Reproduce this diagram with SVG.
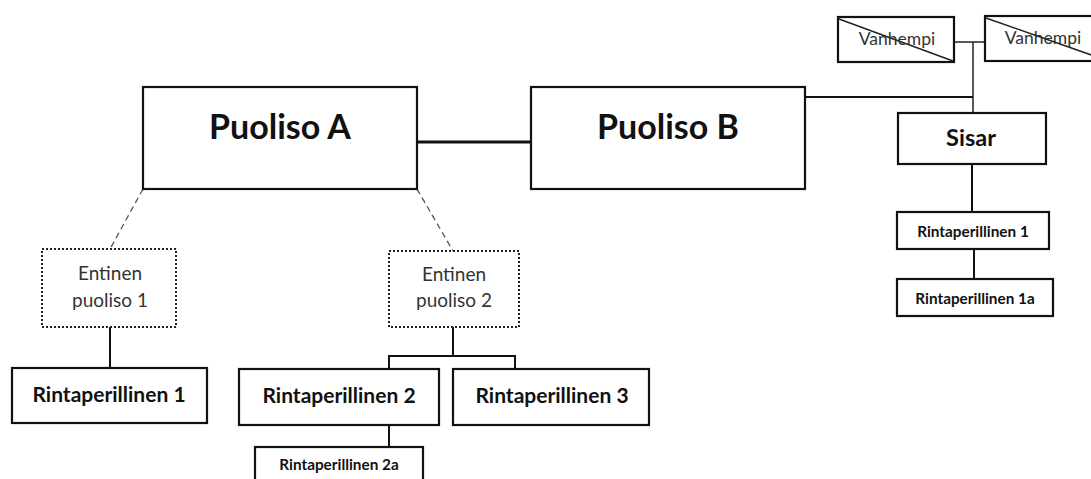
<svg xmlns="http://www.w3.org/2000/svg" width="1091" height="479" viewBox="0 0 1091 479">
<style>
.box{fill:#fff;stroke:#111;stroke-width:2.2}
.dot{fill:#fff;stroke:#222;stroke-width:2;stroke-dasharray:2,2}
.ln{fill:none;stroke:#111;stroke-width:2}
.thick{fill:none;stroke:#111;stroke-width:3}
.thin{fill:none;stroke:#222;stroke-width:1.5}
.dash{fill:none;stroke:#555;stroke-width:1.3;stroke-dasharray:6,4}
text{font-family:Lato,"Liberation Sans",sans-serif;text-anchor:middle;fill:#111}
.b{font-weight:bold}
.r{fill:#333}
</style>
<rect width="1091" height="479" fill="#fff"/>
<g id="connectors">
<line class="thick" x1="417" y1="142" x2="531" y2="142"/>
<polyline class="ln" points="805,97 973,97"/>
<line class="thin" x1="954" y1="42" x2="985" y2="42"/>
<line class="thin" x1="973" y1="42" x2="973" y2="113"/>
<line class="ln" x1="972" y1="164" x2="972" y2="212"/>
<line class="ln" x1="974" y1="249" x2="974" y2="279"/>
<line class="dash" x1="143" y1="189" x2="110" y2="249"/>
<line class="dash" x1="417" y1="189" x2="453" y2="251"/>
<line class="ln" x1="110" y1="327" x2="110" y2="368"/>
<polyline class="ln" points="453,327 453,356"/>
<polyline class="ln" points="389,369 389,356 515,356 515,369"/>
<line class="ln" x1="389" y1="425" x2="389" y2="447"/>
</g>
<g id="puoliso-a"><rect class="box" x="143" y="87" width="274" height="102"/><text class="b" x="280" y="139" font-size="34">Puoliso A</text></g>
<g id="puoliso-b"><rect class="box" x="531" y="87" width="274" height="102"/><text class="b" x="668" y="139" font-size="34">Puoliso B</text></g>
<g id="vanhempi-1"><rect class="box" x="838" y="17" width="116" height="45"/><line class="thin" x1="839" y1="19" x2="953" y2="61"/><text class="r" x="897" y="45" font-size="17.5">Vanhempi</text></g>
<g id="vanhempi-2"><rect class="box" x="985" y="16" width="130" height="45"/><line class="thin" x1="986" y1="18" x2="1100" y2="58"/><text class="r" x="1043" y="44" font-size="17.5">Vanhempi</text></g>
<g id="sisar"><rect class="box" x="898" y="113" width="148" height="51"/><text class="b" x="971" y="146" font-size="23.5">Sisar</text></g>
<g id="rintaperillinen-s1"><rect class="box" x="897" y="212" width="152" height="37"/><text class="b" x="973" y="237" font-size="15.3">Rintaperillinen 1</text></g>
<g id="rintaperillinen-s1a"><rect class="box" x="897" y="279" width="156" height="37"/><text class="b" x="975" y="304" font-size="15.3">Rintaperillinen 1a</text></g>
<g id="entinen-1"><rect class="dot" x="42" y="249" width="134" height="78"/><text class="r" x="110" y="280" font-size="19">Entinen</text><text class="r" x="110" y="307" font-size="19">puoliso 1</text></g>
<g id="entinen-2"><rect class="dot" x="389" y="251" width="130" height="76"/><text class="r" x="454" y="281" font-size="19">Entinen</text><text class="r" x="454" y="307" font-size="19">puoliso 2</text></g>
<g id="rintaperillinen-1"><rect class="box" x="12" y="368" width="195" height="55"/><text class="b" x="109" y="402" font-size="21">Rintaperillinen 1</text></g>
<g id="rintaperillinen-2"><rect class="box" x="239" y="369" width="200" height="56"/><text class="b" x="339" y="403" font-size="21">Rintaperillinen 2</text></g>
<g id="rintaperillinen-3"><rect class="box" x="453" y="369" width="196" height="56"/><text class="b" x="552" y="403" font-size="21">Rintaperillinen 3</text></g>
<g id="rintaperillinen-2a"><rect class="box" x="255" y="447" width="168" height="40"/><text class="b" x="339" y="470" font-size="15.3">Rintaperillinen 2a</text></g>
</svg>
